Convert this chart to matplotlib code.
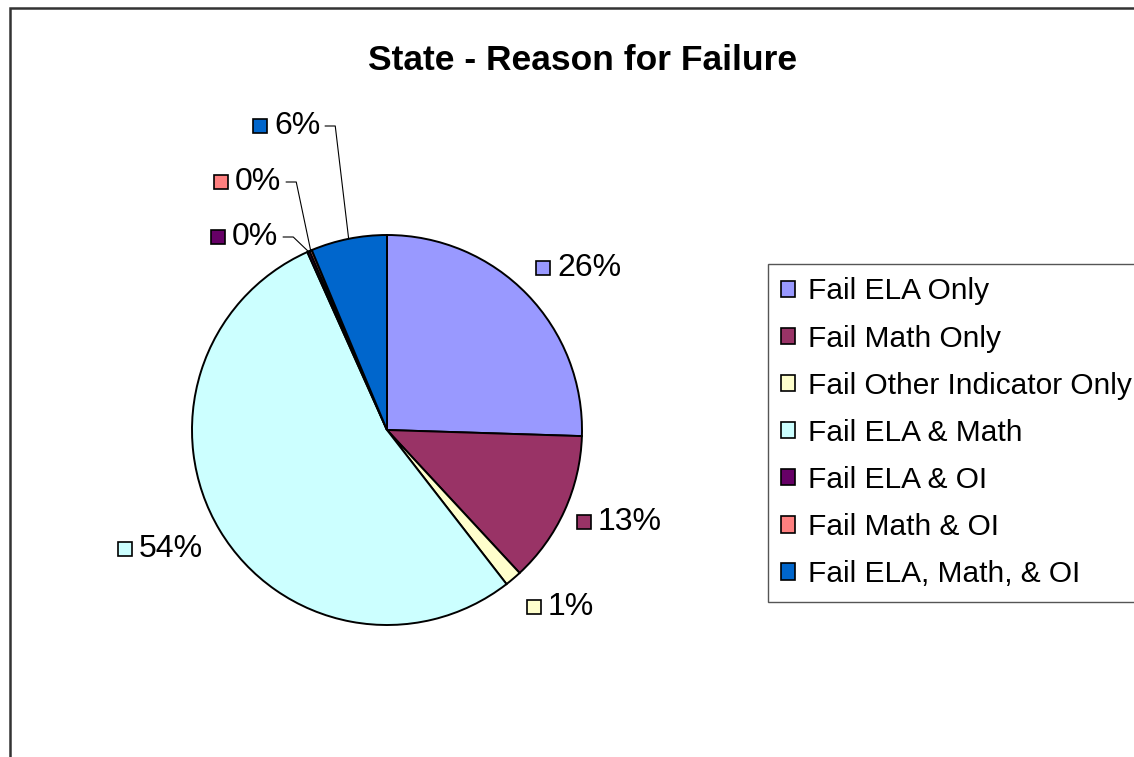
import numpy as np
import matplotlib.pyplot as plt
from matplotlib.patches import Rectangle

# data
categories = ['Fail ELA Only', 'Fail Math Only', 'Fail Other Indicator Only',
              'Fail ELA & Math', 'Fail ELA & OI', 'Fail Math & OI',
              'Fail ELA, Math, & OI']
shares = [25.5, 12.6, 1.4, 53.8, 0.2, 0.2, 6.3]
pct_labels = ['26%', '13%', '1%', '54%', '0%', '0%', '6%']
colors = ['#9999FF', '#993366', '#FFFFCC', '#CCFFFF', '#660066', '#FF8080', '#0066CC']

W, H = 1134, 757
plt.rcParams['font.family'] = ['Liberation Sans', 'DejaVu Sans']

fig = plt.figure(figsize=(W / 100, H / 100), dpi=100)
ax = fig.add_axes([0, 0, 1, 1])

cx, cy, R = 387, H - 430, 195
wedges, _ = ax.pie(shares, colors=colors, startangle=90, counterclock=False,
                   center=(cx, cy), radius=R,
                   wedgeprops=dict(edgecolor='black', linewidth=1.4))
ax.set_xlim(0, W)
ax.set_ylim(0, H)
ax.set_aspect('auto')
ax.axis('off')

# label square-key centres (pixels from top-left), with leader flag
label_pos = [(543, 268, False), (584, 522, False), (534, 607, False),
             (125, 549, False), (218, 237, True), (221, 182, True),
             (260, 126, True)]

fig.canvas.draw()
renderer = fig.canvas.get_renderer()
for w, lab, col, (px, py, leader) in zip(wedges, pct_labels, colors, label_pos):
    y = H - py
    ax.add_patch(Rectangle((px - 7, y - 7), 14, 14, facecolor=col,
                           edgecolor='black', linewidth=1.2, zorder=5))
    t = ax.text(px + 14, y, lab, fontsize=23, va='center', ha='left')
    if leader:
        bb = t.get_window_extent(renderer)
        x0 = bb.x1 + 5
        mid = np.deg2rad((w.theta1 + w.theta2) / 2)
        ex, ey = cx + R * np.cos(mid), cy + R * np.sin(mid)
        ax.plot([x0, x0 + 10, ex], [y, y, ey], color='black', lw=0.8, zorder=4)

ax.text(W / 2 + 16, H - 61, 'State - Reason for Failure', fontsize=25.5,
        fontweight='bold', ha='center', va='center')

# legend box runs off the right edge like the original
leg = ax.legend(wedges, categories, loc='upper left',
                bbox_to_anchor=(768 / W, 1 - 264 / H), fontsize=21.5,
                handlelength=0.47, handleheight=0.47, handletextpad=0.42,
                labelspacing=0.64, borderpad=0.45, borderaxespad=0,
                fancybox=False, edgecolor='#555555', framealpha=1)
leg.get_frame().set_linewidth(1.0)
for h in leg.legend_handles:
    h.set_edgecolor('black')
    h.set_linewidth(1.2)

# outer chart border
ax.add_patch(Rectangle((10, -20), W + 20, H - 8 + 20, fill=False,
                       edgecolor='#333333', linewidth=1.8, clip_on=False))

fig.savefig('out.png', dpi=100)
